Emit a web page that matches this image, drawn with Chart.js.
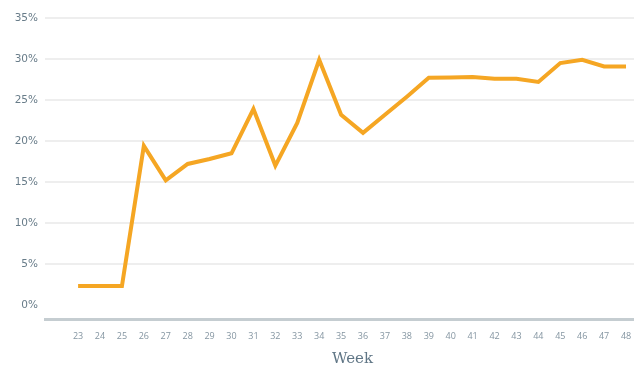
<!DOCTYPE html>
<html>
<head>
<meta charset="utf-8">
<script src="https://cdn.jsdelivr.net/npm/chart.js@4.4.1/dist/chart.umd.min.js"></script>
<style>
  html, body { margin: 0; padding: 0; background: #ffffff; overflow: hidden; }
  #wrap { width: 634px; height: 366px; position: relative; overflow: hidden; }
</style>
</head>
<body>
<div id="wrap"><canvas id="chart" width="660" height="366"></canvas></div>
<script>
// Weekly share, in percent
const weeks = [23, 24, 25, 26, 27, 28, 29, 30, 31, 32, 33, 34, 35, 36, 37, 38, 39, 40, 41, 42, 43, 44, 45, 46, 47, 48];
const shareValues = [2.3, 2.3, 2.3, 19.4, 15.2, 17.2, 17.8, 18.5, 23.9, 17.0, 22.2, 29.9, 23.2, 21.0, 23.2, 25.4, 27.7, 27.75, 27.8, 27.6, 27.6, 27.2, 29.5, 29.9, 29.1, 29.1];
const yTicks = [0, 5, 10, 15, 20, 25, 30, 35];
const xTitle = 'Week';

const points = weeks.map((w, i) => ({ x: w, y: shareValues[i] }));

new Chart(document.getElementById('chart'), {
  type: 'line',
  data: {
    datasets: [{
      data: points,
      borderColor: '#f5a623',
      borderWidth: 4,
      pointRadius: 0,
      tension: 0,
      fill: false
    }]
  },
  options: {
    responsive: false,
    animation: false,
    layout: { padding: { left: 0, right: 0, top: 18, bottom: 0 } },
    plugins: { legend: { display: false }, tooltip: { enabled: false } },
    scales: {
      x: {
        type: 'linear',
        min: 21.49,
        max: 49.55,
        afterBuildTicks: (scale) => { scale.ticks = weeks.map(v => ({ value: v })); },
        afterFit: (scale) => { scale.height = 47; },
        grid: { display: false, drawTicks: false },
        border: { display: true, color: '#c5cdd1', width: 3 },
        ticks: {
          autoSkip: false,
          maxRotation: 0,
          padding: 12,
          color: '#8495a1',
          font: { family: 'Open Sans', size: 9 },
          callback: (v) => String(v)
        },
        title: {
          display: true,
          text: xTitle,
          color: '#5f7585',
          font: { family: 'DejaVu Serif', size: 15 },
          padding: { top: 0, bottom: -2 }
        }
      },
      y: {
        min: -1.71,
        max: 35,
        afterBuildTicks: (scale) => { scale.ticks = yTicks.map(v => ({ value: v })); },
        afterFit: (scale) => { scale.width = 45; },
        grid: {
          color: (ctx) => (ctx.tick && ctx.tick.value === 0 ? 'rgba(0,0,0,0)' : '#eeeeee'),
          lineWidth: 2,
          drawTicks: false
        },
        border: { display: false },
        ticks: {
          padding: 7,
          color: '#687c89',
          font: { family: 'DejaVu Sans', size: 10.5 },
          callback: (v) => v + '%'
        }
      }
    }
  }
});
</script>
</body>
</html>
